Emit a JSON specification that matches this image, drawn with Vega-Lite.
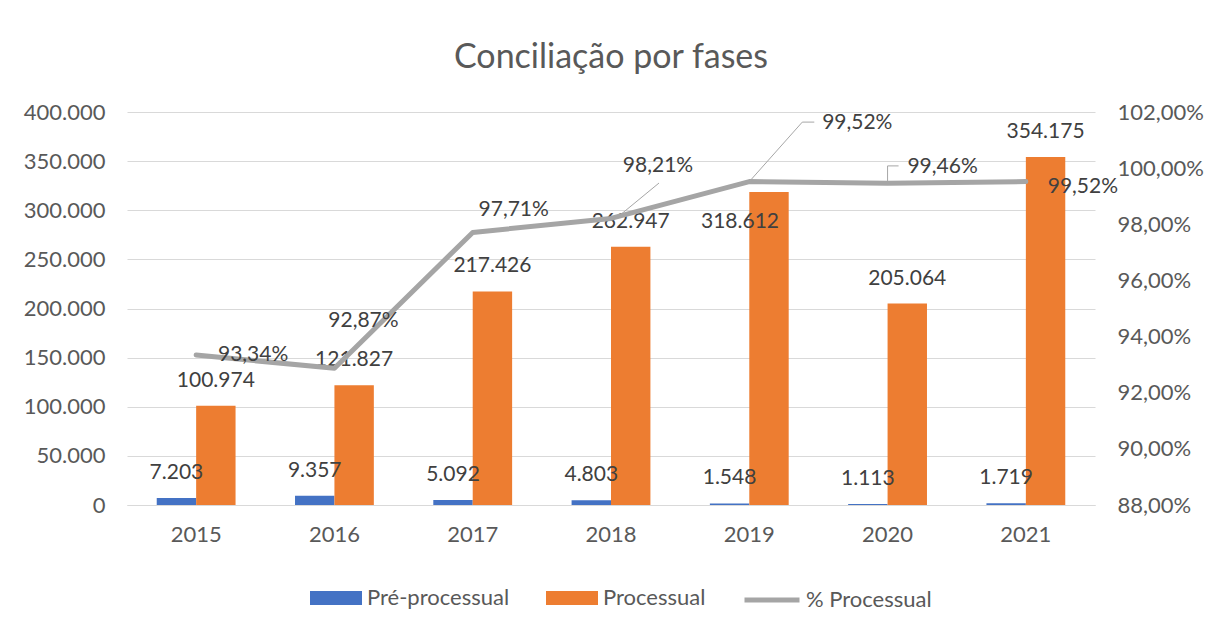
{
  "$schema": "https://vega.github.io/schema/vega-lite/v6.json",
  "width": 968,
  "height": 393,
  "autosize": {"type": "none"},
  "padding": {"left": 127, "top": 112, "right": 111, "bottom": 116},
  "background": "white",
  "title": {"text": "Conciliação por fases", "anchor": "middle", "offset": 26},
  "datasets": {
    "bars": [
      {"ano": "2015", "serie": "Pré-processual", "valor": 7203},
      {"ano": "2015", "serie": "Processual", "valor": 100974},
      {"ano": "2016", "serie": "Pré-processual", "valor": 9357},
      {"ano": "2016", "serie": "Processual", "valor": 121827},
      {"ano": "2017", "serie": "Pré-processual", "valor": 5092},
      {"ano": "2017", "serie": "Processual", "valor": 217426},
      {"ano": "2018", "serie": "Pré-processual", "valor": 4803},
      {"ano": "2018", "serie": "Processual", "valor": 262947},
      {"ano": "2019", "serie": "Pré-processual", "valor": 1548},
      {"ano": "2019", "serie": "Processual", "valor": 318612},
      {"ano": "2020", "serie": "Pré-processual", "valor": 1113},
      {"ano": "2020", "serie": "Processual", "valor": 205064},
      {"ano": "2021", "serie": "Pré-processual", "valor": 1719},
      {"ano": "2021", "serie": "Processual", "valor": 354175}
    ],
    "pct": [
      {"ano": "2015", "pct": 0.9334},
      {"ano": "2016", "pct": 0.9287},
      {"ano": "2017", "pct": 0.9771},
      {"ano": "2018", "pct": 0.9821},
      {"ano": "2019", "pct": 0.9952},
      {"ano": "2020", "pct": 0.9946},
      {"ano": "2021", "pct": 0.9952}
    ]
  },
  "encoding": {
    "x": {
      "field": "ano",
      "type": "nominal",
      "sort": null,
      "scale": {"paddingInner": 0.43, "paddingOuter": 0.215},
      "axis": {"title": null, "labelAngle": 0, "ticks": false, "domain": true, "domainColor": "#D9D9D9", "domainWidth": 1, "labelPadding": 19, "grid": false}
    }
  },
  "layer": [
    {
      "data": {"name": "bars"},
      "encoding": {
        "xOffset": {"field": "serie", "type": "nominal", "sort": ["Pré-processual", "Processual"], "scale": {"paddingInner": 0, "paddingOuter": 0}},
        "y": {
          "field": "valor",
          "type": "quantitative",
          "scale": {"domain": [0, 400000], "nice": false},
          "axis": {"title": null, "orient": "left", "values": [0, 50000, 100000, 150000, 200000, 250000, 300000, 350000, 400000], "format": ",.0f", "domain": false, "ticks": false, "grid": true, "gridColor": "#D9D9D9", "gridWidth": 1, "labelPadding": 22}
        }
      },
      "layer": [
        {
          "mark": {"type": "bar"},
          "encoding": {
            "fill": {
              "field": "serie",
              "type": "nominal",
              "scale": {"domain": ["Pré-processual", "Processual"], "range": ["#4472C4", "#ED7D31"]},
              "legend": {"title": null, "orient": "none", "direction": "horizontal", "legendX": 183, "legendY": 460, "symbolType": "M-1,-0.27H1V0.27H-1Z", "symbolSize": 2704, "symbolStrokeWidth": 0, "labelOffset": 5, "columnPadding": 36}
            }
          }
        },
        {
          "transform": [{"filter": "!(datum.ano === '2019' && datum.serie === 'Processual')"}],
          "mark": {"type": "text", "baseline": "middle", "align": "center", "dy": -25, "color": "#404040", "fontSize": 21, "font": "Lato"},
          "encoding": {
            "text": {"field": "valor", "type": "quantitative", "format": ",.0f"}
          }
        },
        {
          "transform": [{"filter": "datum.ano === '2019' && datum.serie === 'Processual'"}],
          "mark": {"type": "text", "baseline": "middle", "align": "center", "dx": -29, "dy": 30, "color": "#404040", "fontSize": 21, "font": "Lato"},
          "encoding": {
            "text": {"field": "valor", "type": "quantitative", "format": ",.0f"}
          }
        }
      ]
    },
    {
      "data": {"name": "pct"},
      "encoding": {
        "y": {
          "field": "pct",
          "type": "quantitative",
          "scale": {"domain": [0.88, 1.02], "nice": false, "zero": false},
          "axis": {"title": null, "orient": "right", "values": [0.88, 0.9, 0.92, 0.94, 0.96, 0.98, 1.0, 1.02], "format": ".2%", "domain": false, "ticks": false, "grid": false, "labelPadding": 22}
        }
      },
      "layer": [
        {
          "mark": {"type": "line", "strokeWidth": 5, "strokeJoin": "round", "strokeCap": "round"},
          "encoding": {
            "stroke": {
              "datum": "% Processual",
              "type": "nominal",
              "scale": {"range": ["#A5A5A5"]},
              "legend": {"title": null, "orient": "none", "direction": "horizontal", "legendX": 615, "legendY": 458, "symbolType": "stroke", "symbolSize": 3025, "symbolStrokeWidth": 5, "labelOffset": 4}
            }
          }
        },
        {
          "transform": [{"filter": "datum.ano === '2015'"}],
          "mark": {"type": "text", "baseline": "middle", "align": "center", "dx": 57, "dy": 0, "color": "#404040", "fontSize": 21, "font": "Lato"},
          "encoding": {"text": {"field": "pct", "type": "quantitative", "format": ".2%"}}
        },
        {
          "transform": [{"filter": "datum.ano === '2016'"}],
          "mark": {"type": "text", "baseline": "middle", "align": "center", "dx": 29, "dy": -47, "color": "#404040", "fontSize": 21, "font": "Lato"},
          "encoding": {"text": {"field": "pct", "type": "quantitative", "format": ".2%"}}
        },
        {
          "transform": [{"filter": "datum.ano === '2017'"}],
          "mark": {"type": "text", "baseline": "middle", "align": "center", "dx": 41, "dy": -22, "color": "#404040", "fontSize": 21, "font": "Lato"},
          "encoding": {"text": {"field": "pct", "type": "quantitative", "format": ".2%"}}
        },
        {
          "transform": [{"filter": "datum.ano === '2018'"}],
          "mark": {"type": "text", "baseline": "middle", "align": "center", "dx": 47, "dy": -52, "color": "#404040", "fontSize": 21, "font": "Lato"},
          "encoding": {"text": {"field": "pct", "type": "quantitative", "format": ".2%"}}
        },
        {
          "transform": [{"filter": "datum.ano === '2019'"}],
          "mark": {"type": "text", "baseline": "middle", "align": "center", "dx": 108, "dy": -59, "color": "#404040", "fontSize": 21, "font": "Lato"},
          "encoding": {"text": {"field": "pct", "type": "quantitative", "format": ".2%"}}
        },
        {
          "transform": [{"filter": "datum.ano === '2020'"}],
          "mark": {"type": "text", "baseline": "middle", "align": "center", "dx": 55, "dy": -16, "color": "#404040", "fontSize": 21, "font": "Lato"},
          "encoding": {"text": {"field": "pct", "type": "quantitative", "format": ".2%"}}
        },
        {
          "transform": [{"filter": "datum.ano === '2021'"}],
          "mark": {"type": "text", "baseline": "middle", "align": "center", "dx": 57, "dy": 5, "color": "#404040", "fontSize": 21, "font": "Lato"},
          "encoding": {"text": {"field": "pct", "type": "quantitative", "format": ".2%"}}
        },
        {
          "transform": [{"filter": "datum.ano === '2018'"}],
          "mark": {"type": "rule", "color": "#A6A6A6", "strokeWidth": 1, "xOffset": 5, "x2Offset": 48},
          "encoding": {"x2": {"field": "ano"}, "y2": {"datum": 0.9947}}
        },
        {
          "transform": [{"filter": "datum.ano === '2019'"}],
          "mark": {"type": "rule", "color": "#A6A6A6", "strokeWidth": 1, "x2Offset": 53},
          "encoding": {"x2": {"field": "ano"}, "y2": {"datum": 1.0164}}
        },
        {
          "transform": [{"filter": "datum.ano === '2019'"}],
          "mark": {"type": "rule", "color": "#A6A6A6", "strokeWidth": 1, "xOffset": 53, "x2Offset": 65},
          "encoding": {"x2": {"field": "ano"}, "y": {"datum": 1.0164}}
        },
        {
          "transform": [{"filter": "datum.ano === '2020'"}],
          "mark": {"type": "rule", "color": "#A6A6A6", "strokeWidth": 1},
          "encoding": {"y2": {"datum": 1.0008}}
        },
        {
          "transform": [{"filter": "datum.ano === '2020'"}],
          "mark": {"type": "rule", "color": "#A6A6A6", "strokeWidth": 1, "x2Offset": 11},
          "encoding": {"x2": {"field": "ano"}, "y": {"datum": 1.0008}}
        }
      ]
    }
  ],
  "resolve": {"scale": {"y": "independent"}},
  "config": {
    "locale": {"number": {"decimal": ",", "thousands": ".", "grouping": [3], "currency": ["R$", ""]}},
    "view": {"stroke": null},
    "font": "Lato",
    "title": {"fontSize": 34, "font": "Lato", "fontWeight": "normal", "color": "#595959"},
    "axis": {"labelFont": "Lato", "labelFontSize": 22, "labelColor": "#595959"},
    "legend": {"labelFont": "Lato", "labelFontSize": 22, "labelColor": "#595959"}
  }
}
